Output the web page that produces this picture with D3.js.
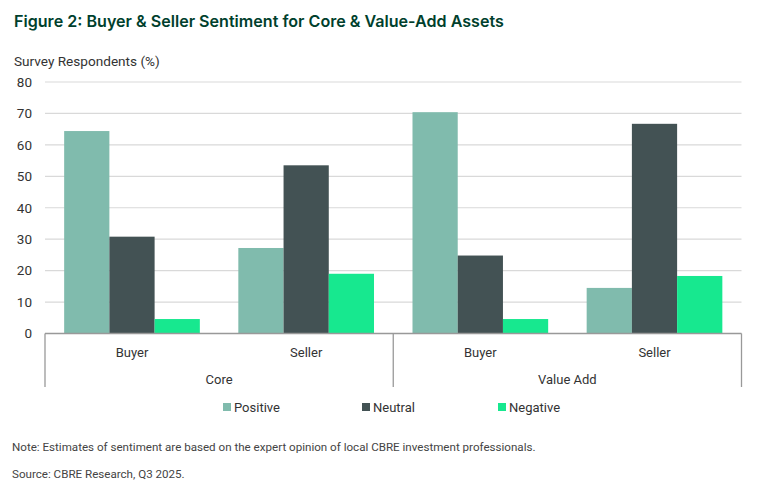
<!DOCTYPE html>
<html>
<head>
  <style type="text/css">
    body { margin: 0; background: #fff; }
    text { font-family: Roboto, "Noto Sans", sans-serif; }
  </style>
</head>
<body>
  <svg width="760" height="494" id="chart"></svg>
  <script src="https://d3js.org/d3.v7.min.js"></script>
  <script>

const assetTypes = ['Core', 'Value Add']
const sides = ['Buyer', 'Seller']
const series = ['Positive', 'Neutral', 'Negative']
const colors = ['#80bbad', '#435254', '#17e88f']
const yTicks = [0, 10, 20, 30, 40, 50, 60, 70, 80]

// one row per asset type / side, values in series order
const positive = [64.4, 27.2, 70.4, 14.5]
const neutral  = [30.8, 53.5, 24.8, 66.7]
const negative = [4.6, 19.0, 4.6, 18.3]

const groups = []
assetTypes.forEach(a => sides.forEach(s => groups.push(a + '|' + s)))
const rows = groups.map((g, i) => ({ key: g, values: [positive[i], neutral[i], negative[i]] }))

const svg = d3.select('#chart')

svg.append('text')
  .attr('x', 14).attr('y', 27)
  .attr('fill', '#003f2d')
  .style('font-family', 'Inter, Roboto, sans-serif')
  .style('font-weight', 600)
  .style('font-size', '16.1px')
  .text('Figure 2: Buyer & Seller Sentiment for Core & Value-Add Assets')

svg.append('text')
  .attr('x', 14).attr('y', 66)
  .attr('fill', '#333')
  .style('font-size', '13.6px')
  .text('Survey Respondents (%)')

let plotLeft = 45, plotRight = 741.5, plotTop = 82, plotBottom = 333.5

let y = d3.scaleLinear().domain([0, 80]).range([plotBottom, plotTop])
let x0 = d3.scaleBand().domain(groups).range([plotLeft, plotRight]).paddingInner(0.221).paddingOuter(0.11)
let x1 = d3.scaleBand().domain(series).range([0, x0.bandwidth()])

// grid
svg.append('g')
  .selectAll('line')
  .data(yTicks.filter(d => d > 0))
  .enter().append('line')
    .attr('x1', plotLeft).attr('x2', plotRight)
    .attr('y1', d => y(d)).attr('y2', d => y(d))
    .attr('stroke', '#d9d9d9')
    .attr('stroke-width', 1.2)

// y axis labels
let yAxis = svg.append('g')
  .attr('transform', 'translate(' + plotLeft + ',0)')
  .call(d3.axisLeft(y).tickValues(yTicks).tickSize(0).tickPadding(13))
yAxis.select('.domain').remove()
yAxis.selectAll('text')
  .attr('fill', '#333')
  .style('font-size', '13.5px')
  .style('font-family', 'Roboto, sans-serif')

// bars
let bars = svg.append('g')
  .selectAll('g')
  .data(rows)
  .enter().append('g')
    .attr('transform', d => 'translate(' + x0(d.key) + ',0)')

bars.selectAll('rect')
  .data(d => d.values.map((v, i) => ({ s: series[i], v: v, c: colors[i] })))
  .enter().append('rect')
    .attr('x', d => x1(d.s))
    .attr('width', x1.bandwidth())
    .attr('y', d => y(d.v))
    .attr('height', d => y(0) - y(d.v))
    .attr('fill', d => d.c)

// category axis box
let axis = svg.append('g').attr('stroke', '#999').attr('stroke-width', 1.3)
axis.append('line')
  .attr('x1', plotLeft).attr('x2', plotRight)
  .attr('y1', y(0)).attr('y2', y(0))
let mid = x0(groups[2]) - x0.step() * x0.paddingInner() / 2
;[plotLeft, mid, plotRight].forEach(px => {
  axis.append('line')
    .attr('x1', px).attr('x2', px)
    .attr('y1', y(0)).attr('y2', 387)
})

svg.append('g')
  .selectAll('text')
  .data(rows)
  .enter().append('text')
    .attr('x', d => x0(d.key) + x0.bandwidth() / 2)
    .attr('y', 357)
    .attr('text-anchor', 'middle')
    .attr('fill', '#333')
    .style('font-size', '13px')
    .text(d => d.key.split('|')[1])

svg.append('g')
  .selectAll('text')
  .data(assetTypes)
  .enter().append('text')
    .attr('x', (d, i) => i == 0 ? (plotLeft + mid) / 2 : (mid + plotRight) / 2)
    .attr('y', 384)
    .attr('text-anchor', 'middle')
    .attr('fill', '#333')
    .style('font-size', '13px')
    .text(d => d)

// legend
let legendX = [223, 362, 498]
let legend = svg.append('g')
  .selectAll('g')
  .data(series)
  .enter().append('g')
    .attr('transform', (d, i) => 'translate(' + legendX[i] + ',403)')
legend.append('rect')
  .attr('width', 8).attr('height', 8)
  .attr('fill', (d, i) => colors[i])
legend.append('text')
  .attr('x', 11).attr('y', 8.5)
  .attr('fill', '#333')
  .style('font-size', '13px')
  .text(d => d)

svg.append('text')
  .attr('x', 12).attr('y', 451)
  .attr('fill', '#444')
  .style('font-size', '11.6px')
  .text('Note: Estimates of sentiment are based on the expert opinion of local CBRE investment professionals.')

svg.append('text')
  .attr('x', 12).attr('y', 478)
  .attr('fill', '#444')
  .style('font-size', '11.6px')
  .text('Source: CBRE Research, Q3 2025.')

  </script>
</body>
</html>
